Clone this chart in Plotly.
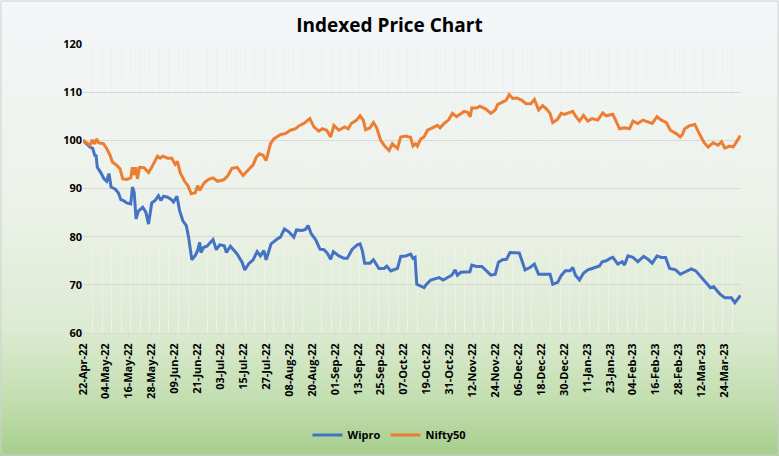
import base64, struct, zlib
import pandas as pd
import plotly.graph_objects as go

START = "2022-04-22"

# Day offsets from 22-Apr-22 and indexed values
nifty_days = [0, 3.7, 4.9, 5.9, 7.2, 8, 10.7, 12.4, 14.2, 15.4, 17.7, 19.4, 20.8, 22.9, 25, 25.9, 26.8, 27.6,
              28.5, 29.6, 32, 34.3, 36, 39, 40.4, 41.8, 44.3, 46.5, 48.3, 49.5, 50.9, 53.2, 54.9, 56.7, 58.8,
              60, 61.1, 63.5, 65.8, 68.1, 70.5, 73.7, 75.9, 78, 80.7, 82.1, 83.8, 86.4, 89.1, 90.8, 92.4, 94.3,
              95.9, 98.2, 99.9, 103.4, 106, 108.7, 111.3, 113, 116, 118.8, 120.9, 123.5, 125.3, 127.6, 129.7,
              131.4, 134, 137, 138.9, 140.5, 143.3, 145.1, 146.8, 148, 150.3, 152.1, 153.8, 155.9, 158, 160.3,
              162, 164.7, 166.4, 169, 171.6, 172.8, 174.2, 175.1, 176.9, 178.6, 180.4, 183, 185.6, 187, 189.1,
              191.4, 193.5, 195.6, 197.3, 199.6, 201.4, 202.8, 203.6, 206.1, 207.8, 211, 213.6, 215.9, 217.1,
              219.7, 221.5, 223.2, 225, 227.3, 229.9, 232, 234.6, 236.4, 238.6, 240.7, 242.8, 244.6, 246,
              248.6, 250.4, 252.1, 253.9, 256.5, 258.2, 260, 262.1, 264.4, 266.6, 269.6, 272.2, 274, 277.5,
              279.2, 281, 283.6, 286.2, 288, 290.6, 293.2, 295.9, 298.1, 300.6, 302.9, 305.5, 307.6, 310.7,
              312.8, 313.9, 315.1, 317.4, 320.4, 323, 325.3, 327.4, 330, 332.6, 334.4, 336.1, 338.7, 340.5,
              342.2, 344.3]
nifty_vals = [100, 99.0, 100.1, 99.3, 100.3, 99.5, 99.3, 98.3, 96.9, 95.5, 94.8, 94.1, 92.0, 91.9, 92.2, 94.4,
              92.8, 94.4, 92.0, 94.4, 94.3, 93.3, 94.4, 96.7, 96.3, 96.7, 96.3, 96.3, 95.0, 95.6, 93.3, 91.5,
              90.6, 88.9, 89.1, 90.6, 89.6, 91.2, 91.9, 92.2, 91.5, 91.8, 92.7, 94.2, 94.4, 93.5, 92.7, 93.8,
              94.9, 96.5, 97.2, 96.9, 95.8, 99.3, 100.3, 101.2, 101.4, 102.1, 102.4, 103.0, 103.6, 104.5,
              102.8, 101.9, 102.4, 102.1, 100.7, 103.1, 102.1, 102.8, 102.4, 103.5, 104.2, 105.1, 104.2,
              102.2, 102.6, 103.7, 102.6, 100.0, 98.8, 97.9, 99.3, 98.3, 100.7, 100.9, 100.6, 98.8, 99.3,
              98.8, 100.3, 100.7, 102.1, 102.6, 103.1, 102.6, 103.5, 104.2, 105.6, 104.9, 105.4, 106.0,
              105.8, 104.9, 106.7, 106.7, 107.1, 106.5, 105.6, 106.3, 107.4, 108.0, 108.3, 109.5, 108.7,
              108.8, 108.3, 107.6, 107.6, 108.5, 106.3, 107.2, 106.5, 105.6, 103.7, 104.4, 105.6, 105.4,
              105.6, 106.0, 104.9, 104.0, 105.2, 104.0, 104.5, 104.2, 105.7, 105.1, 105.4, 104.0, 102.4,
              102.6, 102.4, 104.0, 103.5, 104.2, 103.8, 103.5, 104.9, 104.2, 103.7, 102.1, 101.4, 100.7,
              101.2, 102.4, 103.0, 103.3, 101.2, 99.5, 98.6, 99.5, 99.0, 99.7, 98.4, 98.8, 98.6, 99.7, 101.0]

wipro_days = [0, 3.7, 5.1, 6.3, 6.8, 7.5, 9.3, 11, 12.4, 13.6, 14.7, 16.8, 18.5, 19.8, 21.2, 22.9, 25, 25.9,
              26.8, 27.8, 29, 31.3, 32.9, 34.3, 36, 37.8, 39.5, 40.8, 42.2, 44.3, 46, 47.4, 49.2, 50.6, 52.3,
              54.1, 55.3, 57, 58.8, 60, 61.1, 61.8, 63.2, 64.9, 68.1, 69.8, 71.6, 74, 75.1, 77.2, 80.7, 83.3,
              84.7, 86.8, 89.1, 91.2, 92.9, 94.7, 95.9, 98.5, 101.7, 103.4, 105.5, 107.8, 110.4, 111.8, 114.8,
              116.5, 117.9, 119.5, 121.8, 124.1, 126.2, 127.9, 129.7, 131.1, 134, 136.7, 138.4, 141, 143.7,
              145.1, 146.3, 147.5, 150.3, 152.1, 155, 157.7, 159.1, 161.2, 164.7, 166.4, 169, 171.6, 172.8,
              173.9, 174.8, 176.3, 178.6, 179.8, 182.1, 184.7, 186.5, 188.6, 190.9, 193.1, 194.9, 196.1,
              197.9, 200.5, 202.6, 203.6, 206.1, 208.9, 211, 213.6, 215.9, 217.6, 219.7, 221.8, 223.6, 226.4,
              228.5, 229.9, 231.5, 234.1, 236.4, 238.6, 241.1, 244.6, 246, 248.6, 250.4, 252.6, 255.1, 256.5,
              257.9, 260, 262.1, 264.4, 266.6, 268.7, 270.5, 271.9, 274, 276.1, 277.5, 280.1, 282.4, 283.6,
              285.4, 288, 290.6, 293.6, 295.9, 298.1, 300.6, 302.9, 305.1, 307.2, 310.4, 312.8, 315.1, 318.6,
              320.9, 323, 325.3, 328.6, 330.3, 333.5, 336.1, 339.6, 341.4, 344.3]
wipro_vals = [100, 98.6, 98.3, 96.7, 97.0, 94.4, 93.3, 92.0, 91.5, 93.1, 90.3, 89.9, 89.1, 87.7, 87.5, 87.0,
              86.8, 90.3, 89.2, 83.7, 85.3, 86.1, 85.1, 82.6, 87.0, 87.5, 88.5, 87.5, 88.4, 88.2, 87.8, 87.2,
              88.4, 85.4, 83.3, 82.3, 79.9, 75.2, 76.1, 77.1, 78.8, 76.7, 77.8, 78.0, 79.4, 77.3, 78.3, 78.1,
              76.7, 78.0, 76.4, 74.7, 73.1, 74.4, 75.2, 76.9, 76.0, 77.1, 75.2, 78.5, 79.5, 79.9, 81.6, 81.0,
              79.9, 81.4, 81.3, 81.5, 82.3, 80.6, 79.4, 77.4, 77.3, 76.6, 75.3, 76.9, 76.0, 75.5, 75.5, 77.4,
              78.3, 78.5, 77.1, 74.5, 74.5, 75.2, 73.4, 73.4, 73.9, 72.9, 73.4, 75.9, 76.0, 76.4, 75.5, 75.7,
              70.1, 69.8, 69.4, 70.1, 71.0, 71.3, 71.5, 71.0, 71.5, 72.0, 73.1, 72.0, 72.6, 72.6, 72.7, 74.1,
              73.8, 73.8, 72.9, 72.0, 72.2, 74.7, 75.2, 75.3, 76.7, 76.7, 76.6, 75.0, 73.1, 73.6, 74.3, 72.2,
              72.2, 72.2, 70.1, 70.5, 71.9, 72.9, 72.9, 73.6, 72.0, 71.0, 72.4, 73.1, 73.4, 73.6, 73.9, 74.8,
              75.0, 75.5, 75.7, 74.3, 74.8, 74.1, 76.0, 75.7, 74.8, 75.9, 75.3, 74.5, 76.0, 75.7, 75.7, 73.4,
              73.1, 72.2, 72.7, 73.3, 72.9, 72.0, 70.8, 69.4, 69.6, 68.1, 67.3, 67.3, 66.3, 67.8]

y_ticks = [60, 70, 80, 90, 100, 110, 120]

W, H = 779, 456
ML, MR, MT, MB = 83, 38, 44, 123
PW, PH = W - ML - MR, H - MT - MB

t0 = pd.Timestamp(START)
def to_dates(days):
    return [t0 + pd.Timedelta(days=d) for d in days]

# gradient background image (pure-python PNG)
def lerp(a, b, t):
    return tuple(int(round(a[i] + (b[i] - a[i]) * t)) for i in range(3))
stops = [(0.0, (244, 246, 249)), (0.45, (236, 242, 233)), (0.72, (221, 235, 210)),
         (0.88, (194, 222, 176)), (1.0, (166, 206, 140))]
rows = []
for r in range(H):
    f = r / (H - 1)
    for k in range(len(stops) - 1):
        if stops[k][0] <= f <= stops[k + 1][0]:
            t = (f - stops[k][0]) / (stops[k + 1][0] - stops[k][0])
            rows.append(lerp(stops[k][1], stops[k + 1][1], t))
            break
raw = b"".join(b"\x00" + bytes(c) for c in rows)
def chunk(tag, data):
    c = struct.pack(">I", len(data)) + tag + data
    return c + struct.pack(">I", zlib.crc32(tag + data) & 0xffffffff)
png = (b"\x89PNG\r\n\x1a\n" + chunk(b"IHDR", struct.pack(">IIBBBBB", 1, H, 8, 2, 0, 0, 0))
       + chunk(b"IDAT", zlib.compress(raw)) + chunk(b"IEND", b""))
uri = "data:image/png;base64," + base64.b64encode(png).decode()

FONT = "Open Sans, Lato, sans-serif"
fig = go.Figure()
fig.add_trace(go.Scatter(x=to_dates(wipro_days), y=wipro_vals, mode="lines", name="Wipro",
                         line=dict(color="#4472C4", width=3)))
fig.add_trace(go.Scatter(x=to_dates(nifty_days), y=nifty_vals, mode="lines", name="Nifty50",
                         line=dict(color="#ED7D31", width=3)))

day_ms = 86400000
fig.update_layout(
    width=W, height=H,
    margin=dict(l=ML, r=MR, t=MT, b=MB, autoexpand=False),
    paper_bgcolor="#f4f6f9", plot_bgcolor="white",
    title=dict(text="<b>Indexed Price Chart</b>", x=0.5, xanchor="center",
               yref="container", y=1 - 25 / H, yanchor="middle",
               font=dict(family=FONT, size=19, color="black")),
    font=dict(family=FONT, color="black"),
    showlegend=True,
    legend=dict(orientation="h", xref="container", x=0.5, xanchor="center", yref="container",
                y=1 - 435 / H, yanchor="middle",
                font=dict(family=FONT, size=11, color="black", weight="bold"), bgcolor="rgba(0,0,0,0)",
                itemwidth=30),
    xaxis=dict(type="date", range=[t0, t0 + pd.Timedelta(days=344.6)], automargin=False,
               tick0=START, dtick=12 * day_ms, tickformat="%d-%b-%y", tickangle=-90,
               ticks="outside", ticklen=5, tickcolor="#d9d9d9",
               showline=True, linecolor="#d9d9d9", linewidth=1,
               showgrid=False, zeroline=False,
               tickfont=dict(family=FONT, size=11, color="black", weight="bold"),
               minor=dict(tick0=START, dtick=5 * day_ms, showgrid=True, gridcolor="#efefef", gridwidth=1)),
    yaxis=dict(range=[60, 120], tickvals=y_ticks, showgrid=True, gridcolor="#d9d9d9", gridwidth=1,
               zeroline=False, showline=False, ticks="", automargin=False,
               tickfont=dict(family=FONT, size=11, color="black", weight="bold")),
    images=[dict(source=uri, xref="paper", yref="paper", x=-ML / PW, y=1 + MT / PH,
                 sizex=W / PW, sizey=H / PH, sizing="stretch", xanchor="left", yanchor="top",
                 layer="below")],
    shapes=[dict(type="rect", xref="paper", yref="paper", x0=-(ML - 1) / PW, x1=1 + (MR - 1) / PW,
                 y0=-(MB - 1) / PH, y1=1 + (MT - 1) / PH, line=dict(color="#d0d0d0", width=1),
                 fillcolor="rgba(0,0,0,0)", layer="above")],
)

fig.write_html("out.html", config={"displayModeBar": False},
               post_script="document.body.style.margin='0';document.body.style.overflow='hidden';")
